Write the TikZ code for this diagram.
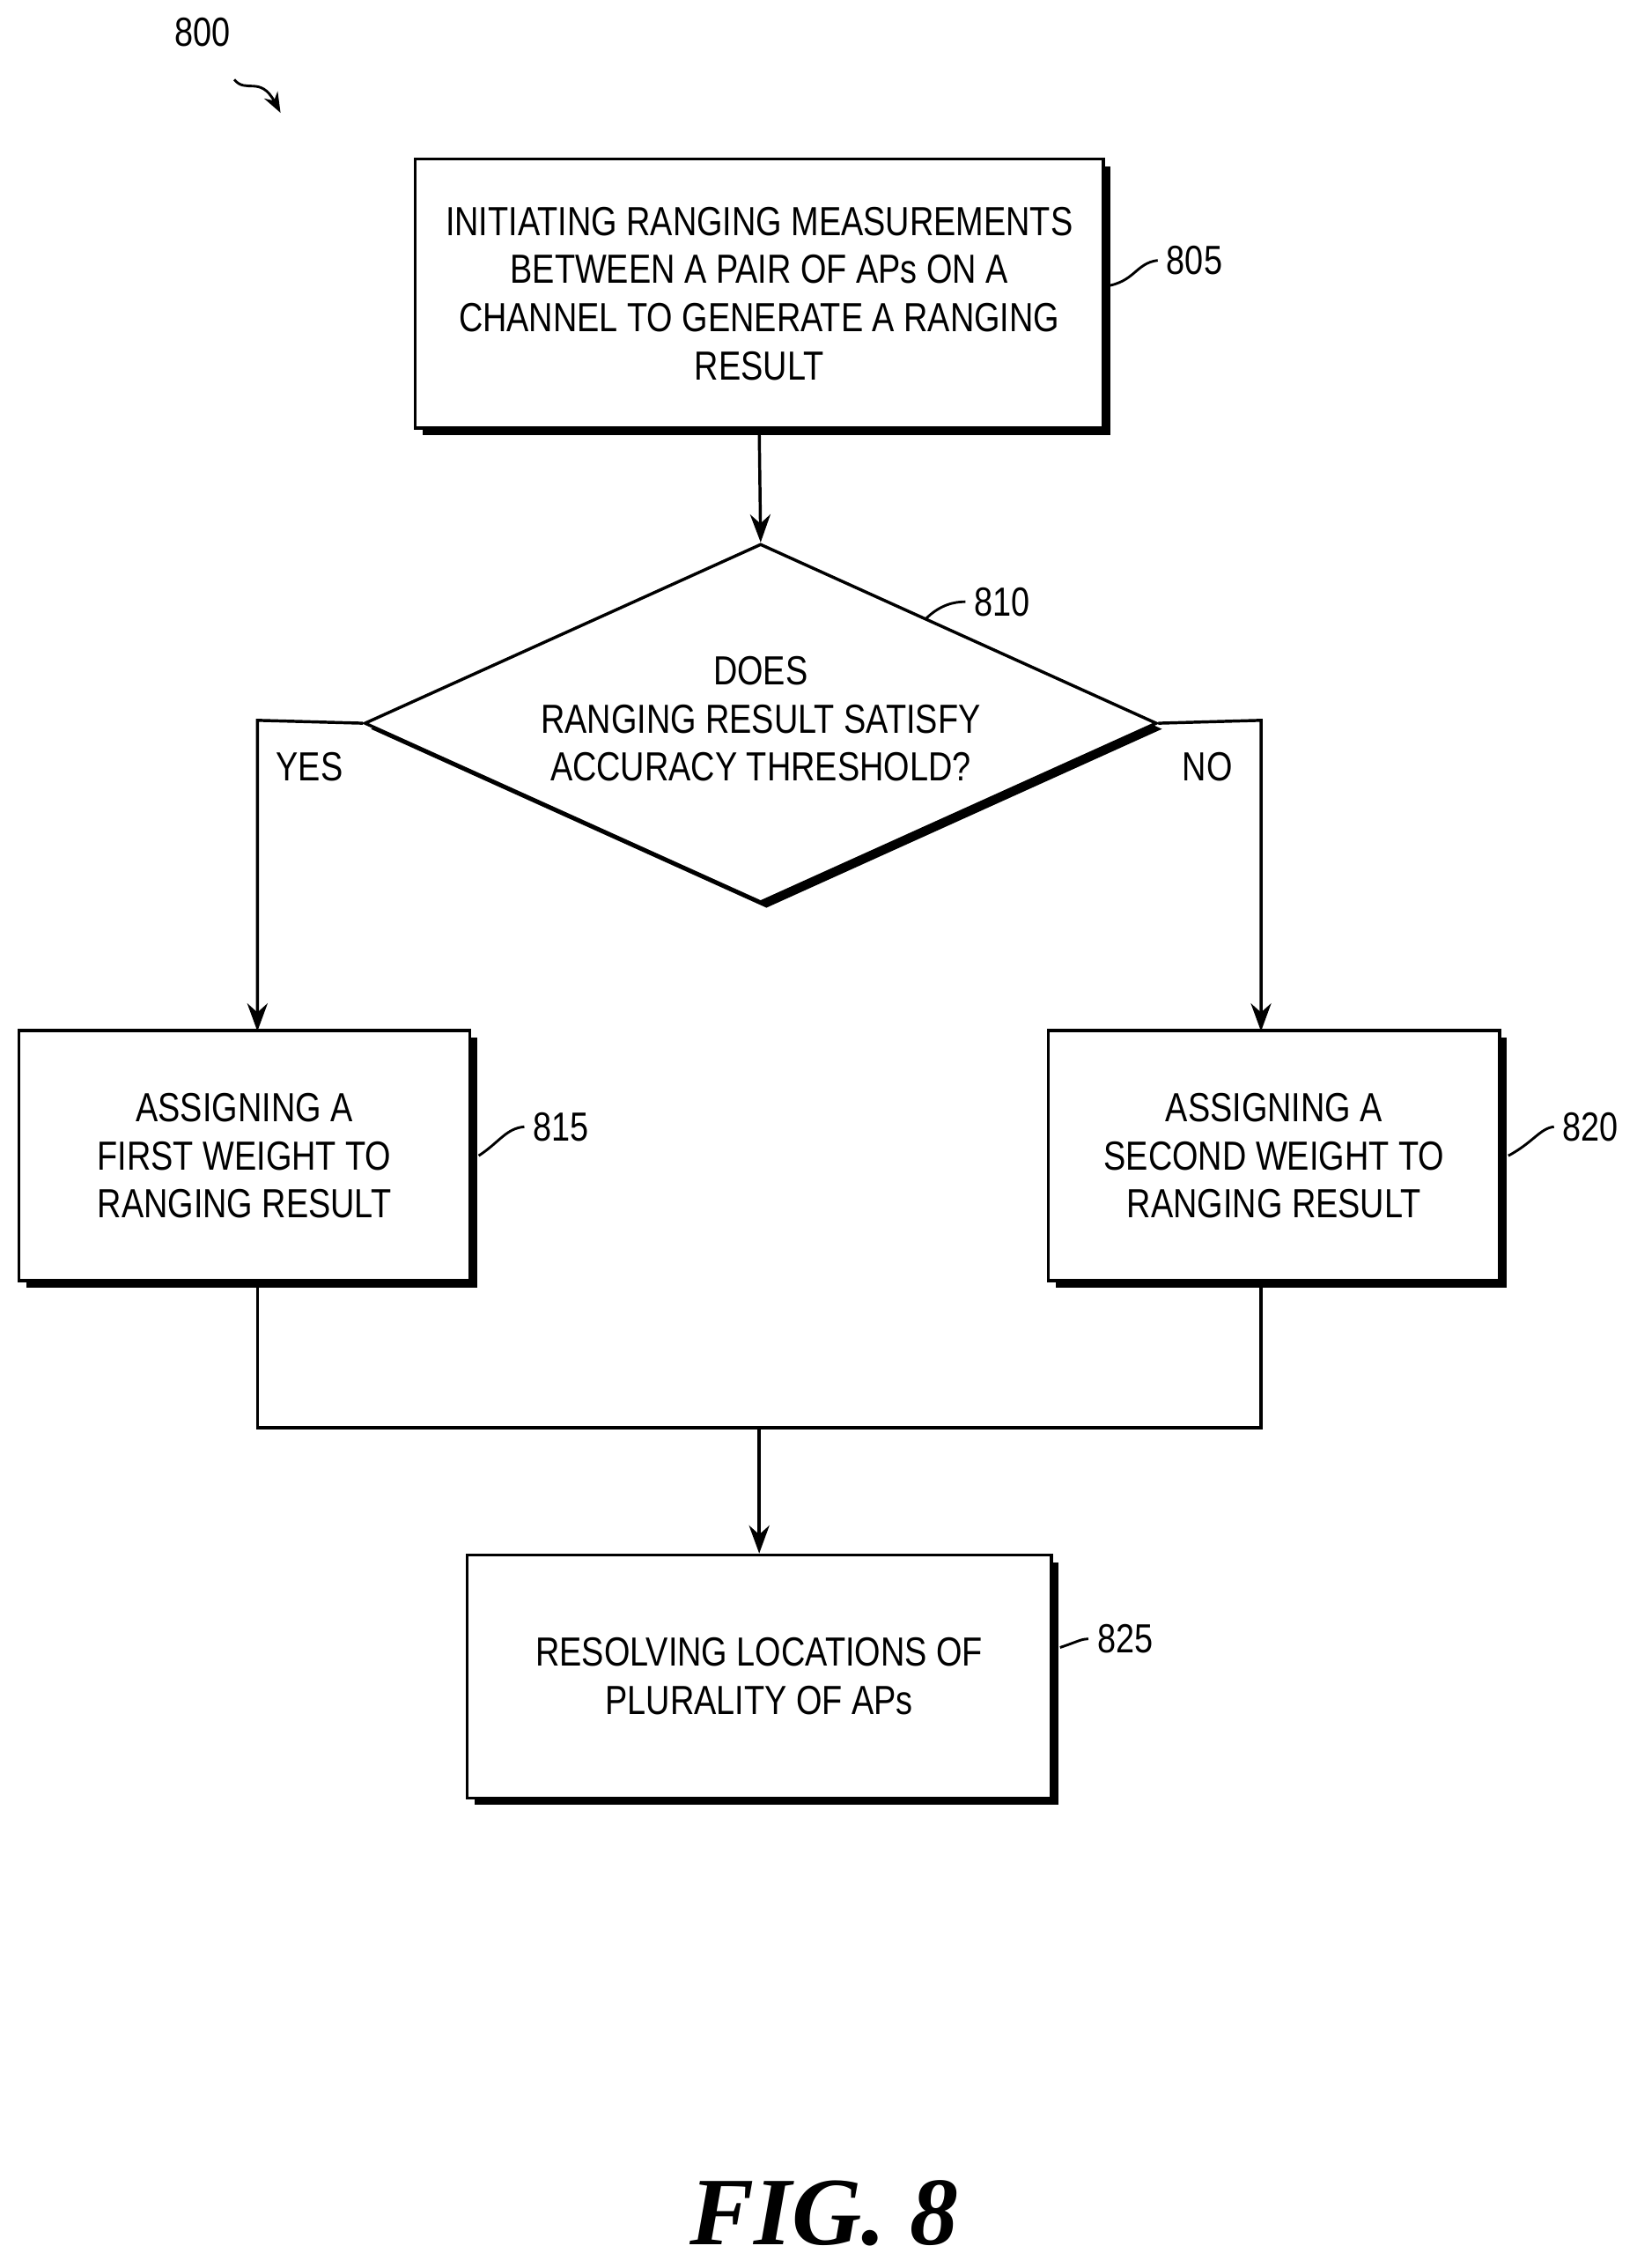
\documentclass[tikz,border=0pt]{standalone}
\usepackage{fontspec}
\setmainfont[FakeStretch=0.82]{Liberation Sans}
\newfontfamily\figfont{Liberation Serif}
\usetikzlibrary{shapes.geometric,shadows,arrows.meta}
\begin{document}
\begin{tikzpicture}[x=0.02cm,y=-0.02cm,
  box/.style={draw,line width=1.2pt,fill=white,align=center,font=\fontsize{16}{19}\selectfont,
    drop shadow={shadow xshift=0.1cm,shadow yshift=-0.1cm,fill=black,opacity=1}},
  lbl/.style={font=\fontsize{16}{18}\selectfont},
  arr/.style={line width=1.2pt,-{Stealth[length=11pt,width=8pt]}},
  ln/.style={line width=1.2pt},
  lead/.style={line width=1pt}]
\path[use as bounding box] (0,0) rectangle (1132,1568);
\node[lbl] (n800) at (140,22) {800};
\coordinate (s0) at (162,55);
\coordinate (s1) at (194,78);
\draw[lead,-{Stealth[length=8pt]}] (s0) .. controls (170,65) and (180,52) .. (s1);
\node[box,minimum width=9.52cm,minimum height=3.72cm] (b805) at (525,203) {INITIATING RANGING MEASUREMENTS\\BETWEEN A PAIR OF APs ON A\\CHANNEL TO GENERATE A RANGING\\RESULT};
\node[lbl] (l805) at (826,180) {805};
\draw[lead] (b805.east) ++(0,-5) .. controls (785,195) and (785,182) .. (l805.west);
\node[diamond,draw,line width=1.2pt,fill=white,aspect=2.2,minimum width=10.96cm,minimum height=4.96cm,inner sep=0pt,
  drop shadow={shadow xshift=0.08cm,shadow yshift=-0.08cm,fill=black,opacity=1}] (d810) at (526,500) {};
\node[align=center,font=\fontsize{16}{19}\selectfont] (t810) at (526,497) {DOES\\RANGING RESULT SATISFY\\ACCURACY THRESHOLD?};
\node[lbl] (l810) at (693,416) {810};
\coordinate (c810) at (640,428);
\draw[lead] (c810) .. controls (650,418) and (660,416) .. (l810.west);
\node[lbl] (yes) at (214,530) {YES};
\node[lbl] (no) at (835,530) {NO};
\node[box,minimum width=6.24cm,minimum height=3.46cm] (b815) at (169,799) {ASSIGNING A\\FIRST WEIGHT TO\\RANGING RESULT};
\node[box,minimum width=6.24cm,minimum height=3.46cm] (b820) at (881,799) {ASSIGNING A\\SECOND WEIGHT TO\\RANGING RESULT};
\node[lbl] (l815) at (388,779) {815};
\node[lbl] (l820) at (1100,779) {820};
\draw[lead] (b815.east) ++(5,0) .. controls (345,790) and (350,780) .. (l815.west);
\draw[lead] (b820.east) ++(5,0) .. controls (1060,790) and (1065,780) .. (l820.west);
\node[box,minimum width=8.08cm,minimum height=3.36cm] (b825) at (525,1159) {RESOLVING LOCATIONS OF\\PLURALITY OF APs};
\node[lbl] (l825) at (778,1133) {825};
\draw[lead] (b825.east) ++(5,-20) .. controls (745,1135) and (748,1133) .. (l825.west);
\draw[arr] (b805.south) -- (d810.north);
\draw[arr] (d810.west) -- (178,498) -- (178,713);
\draw[arr] (d810.east) -- (872,498) -- (872,713);
\coordinate (m) at (525,987);
\draw[ln] (178,886) -- (178,987) -- (872,987) -- (872,886);
\draw[arr] (m) -- (b825.north);
\node[font=\figfont\bfseries\itshape\fontsize{38}{42}\selectfont] (fig) at (570,1530) {FIG. 8};
\end{tikzpicture}
\end{document}
